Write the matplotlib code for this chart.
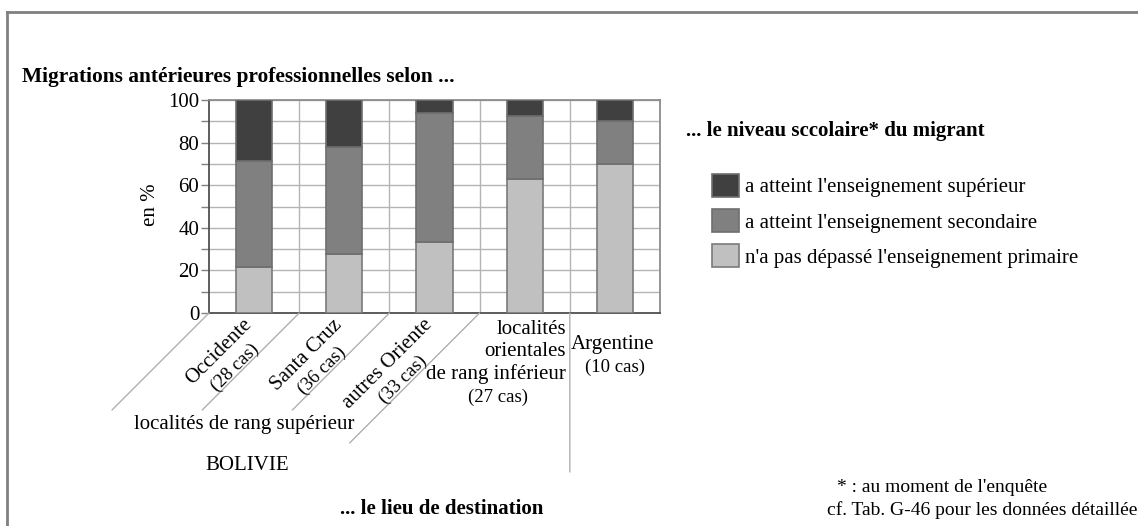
import matplotlib
matplotlib.use('Agg')
import matplotlib.pyplot as plt
from matplotlib.transforms import IdentityTransform, blended_transform_factory

W, H = 1138, 526
DPI = 100

# ---------------- data ----------------
categories = ["Occidente", "Santa Cruz", "autres Oriente",
              "localités orientales de rang inférieur", "Argentine"]
cases = [28, 36, 33, 27, 10]
primaire = [21.4, 27.8, 33.3, 63.0, 70.0]
secondaire = [50.0, 50.0, 60.6, 29.6, 20.0]
superieur = [28.6, 22.2, 6.1, 7.4, 10.0]
series_labels = ["n'a pas dépassé l'enseignement primaire",
                 "a atteint l'enseignement secondaire",
                 "a atteint l'enseignement supérieur"]
series_colors = ['#c0c0c0', '#808080', '#404040']
yticks = [0, 20, 40, 60, 80, 100]

plt.rcParams['font.family'] = ['Liberation Serif', 'DejaVu Serif']
FS = 15
FS_SMALL = 13.5


def P(x, y):
    return (x / W, 1 - y / H)


fig = plt.figure(figsize=(W / DPI, H / DPI), dpi=DPI)
fig.patch.set_facecolor('white')

# frame (top and left edges)
fig.add_artist(plt.Line2D([7 / W, 1], [1 - 12 / H, 1 - 12 / H], transform=fig.transFigure,
                          color='#808080', lw=2.0))
fig.add_artist(plt.Line2D([7 / W, 7 / W], [0, 1 - 12 / H], transform=fig.transFigure,
                          color='#808080', lw=2.0))

ax = fig.add_axes([209 / W, 1 - 313 / H, 451 / W, 213 / H])
x = list(range(len(categories)))
bw = 0.4
b1 = ax.bar(x, primaire, bw, color=series_colors[0], edgecolor='#7a7a7a', lw=1.2, zorder=3)
bottom2 = primaire
b2 = ax.bar(x, secondaire, bw, bottom=bottom2, color=series_colors[1], edgecolor='#6e6e6e', lw=1.2, zorder=3)
bottom3 = [p + s for p, s in zip(primaire, secondaire)]
b3 = ax.bar(x, superieur, bw, bottom=bottom3, color=series_colors[2], edgecolor='#6e6e6e', lw=1.2, zorder=3)

ax.set_xlim(-0.5, len(categories) - 0.5)
ax.set_ylim(0, 100)
ax.set_yticks(yticks)
ax.set_yticklabels([str(v) for v in yticks], fontsize=FS)
ax.set_yticks(list(range(0, 101, 10)), minor=True)
ax.tick_params(axis='y', which='both', length=6, width=1, color='#808080', pad=1, direction='out')
ax.set_xticks([i + 0.5 for i in range(len(categories) - 1)])
ax.set_xticklabels([])
ax.tick_params(axis='x', length=0)
ax.grid(True, axis='x', which='major', color='#b4b4b4', lw=1.0, zorder=0)
ax.grid(True, axis='y', which='both', color='#b4b4b4', lw=1.0, zorder=0)
for s in ['top', 'right']:
    ax.spines[s].set_color('#8c8c8c')
    ax.spines[s].set_linewidth(1.3)
for s in ['left', 'bottom']:
    ax.spines[s].set_color('#505050')
    ax.spines[s].set_linewidth(1.3)
ax.set_axisbelow(True)

# diagonal separators below the axis (category boundaries)
trans = blended_transform_factory(ax.transData, ax.transAxes)
diag = [(-0.5, 97), (0.5, 97), (1.5, 97), (2.5, 130)]
for bx, L in diag:
    ax.annotate('', xy=(bx, 0), xycoords=trans, xytext=(-L, -L), textcoords='offset pixels',
                arrowprops=dict(arrowstyle='-', color='#b0b0b0', lw=1.0, shrinkA=0, shrinkB=0),
                annotation_clip=False)
# vertical separator Bolivie / Argentine
ax.annotate('', xy=(3.5, 0), xycoords=trans, xytext=(0, -159), textcoords='offset pixels',
            arrowprops=dict(arrowstyle='-', color='#b0b0b0', lw=1.0, shrinkA=0, shrinkB=0),
            annotation_clip=False)

# rotated labels for first three categories
fig.canvas.draw()
r = fig.canvas.get_renderer()
c45 = 0.70710678
for i in range(3):
    tmp = fig.text(0, 0, categories[i], fontsize=FS)
    w = tmp.get_window_extent(renderer=r).width
    tmp.remove()
    xc, _ = ax.transData.transform((i, 0))
    ax_px = xc - 5
    ay_px = H - 322
    mx = ax_px - w / 2 * c45
    my = ay_px - w / 2 * c45
    fig.text(mx, my, categories[i], fontsize=FS, rotation=45, rotation_mode='anchor',
             ha='center', va='center', transform=IdentityTransform())
    cx = mx + 22 * c45
    cy = my - 22 * c45
    fig.text(cx, cy, f"({cases[i]} cas)", fontsize=FS_SMALL, rotation=45, rotation_mode='anchor',
             ha='center', va='center', transform=IdentityTransform())

# fourth category (horizontal, stacked)
for line, yy in zip(["localités", "orientales", "de rang inférieur"], [330, 352, 374]):
    fig.text(*P(566, yy), line, fontsize=FS, ha='right', va='center')
fig.text(*P(498, 397), f"({cases[3]} cas)", fontsize=FS_SMALL, ha='center', va='center')

# fifth category
fig.text(*P(613, 345), categories[4], fontsize=FS, ha='center', va='center')
fig.text(*P(615, 367), f"({cases[4]} cas)", fontsize=FS_SMALL, ha='center', va='center')

# group labels
fig.text(*P(244, 425), "localités de rang supérieur", fontsize=FS, ha='center', va='center')
fig.text(*P(247, 466), "BOLIVIE", fontsize=FS, ha='center', va='center')
fig.text(*P(442, 509), "... le lieu de destination", fontsize=FS, fontweight='bold',
         ha='center', va='center')

# titles and axis label
fig.text(*P(22, 77), "Migrations antérieures professionnelles selon ...", fontsize=15.4,
         fontweight='bold', ha='left', va='center')
fig.text(*P(151, 205), "en %", fontsize=FS, rotation=90, ha='center', va='center')

# legend
fig.text(*P(686, 131), "... le niveau sccolaire* du migrant", fontsize=FS, fontweight='bold',
         ha='left', va='center')
leg = fig.legend([b3, b2, b1], [series_labels[2], series_labels[1], series_labels[0]],
                 loc='upper left', bbox_to_anchor=P(712, 174), frameon=False, fontsize=FS,
                 handlelength=1.3, handleheight=1.3, labelspacing=0.57, handletextpad=0.3,
                 borderpad=0, borderaxespad=0)

# footnotes
fig.text(*P(837, 488), "* : au moment de l'enquête", fontsize=14, ha='left', va='center')
fig.text(*P(827, 510), "cf. Tab. G-46 pour les données détaillées", fontsize=14, ha='left', va='center')

fig.savefig('out.png', dpi=DPI, facecolor=fig.get_facecolor())
